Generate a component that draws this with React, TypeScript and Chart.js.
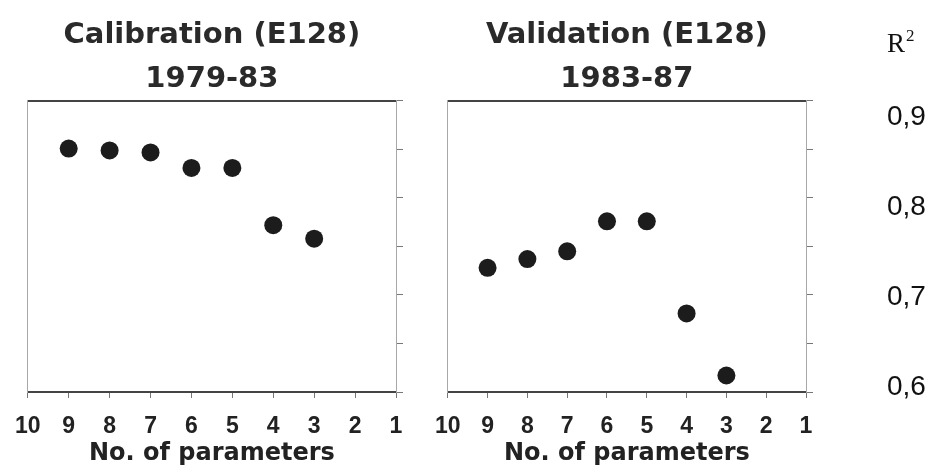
import React, { useEffect, useRef } from "react";
import { Chart, registerables } from "chart.js";

Chart.register(...registerables);

// ---- data ----
const PARAMS = [9, 8, 7, 6, 5, 4, 3];
const CALIBRATION_R2 = [0.851, 0.849, 0.847, 0.831, 0.831, 0.772, 0.758];
const VALIDATION_R2 = [0.728, 0.737, 0.745, 0.776, 0.776, 0.681, 0.617];
const CAL_TITLE = ["Calibration (E128)", "1979-83"];
const VAL_TITLE = ["Validation (E128)", "1983-87"];
const X_TITLE = "No. of parameters";
const R2_LABEL_VALUES = [0.6, 0.7, 0.8, 0.9];

const INK = "#1c1c1c";
const FRAME = "#444";
const SIDE = "#a8a8a8";

function makeConfig(
  title: string[],
  values: number[],
  leftW: number,
  rightW: number,
  withLabels: boolean
): any {
  const scales: any = {
    x: {
      type: "linear",
      reverse: true,
      min: 1,
      max: 10,
      ticks: {
        stepSize: 1,
        color: "#222",
        padding: 15,
        font: { family: "'Liberation Sans', Arial, sans-serif", size: 23, weight: "bold" },
      },
      grid: { drawOnChartArea: false, drawTicks: true, tickLength: 6, color: "#777" },
      border: { color: FRAME, width: 2 },
      title: {
        display: true,
        text: X_TITLE,
        color: "#222",
        padding: { top: 0, bottom: 5 },
        font: { family: "'DejaVu Sans', sans-serif", size: 24, weight: "bold" },
      },
      afterFit: (s: any) => {
        s.height = 81;
      },
    },
    x2: {
      type: "linear",
      position: "top",
      reverse: true,
      min: 1,
      max: 10,
      ticks: { display: false },
      grid: { drawOnChartArea: false, drawTicks: false },
      border: { color: FRAME, width: 2 },
      afterFit: (s: any) => {
        s.height = 0;
      },
    },
    yL: {
      type: "linear",
      position: "left",
      min: 0.6,
      max: 0.9,
      ticks: { display: false },
      grid: { drawOnChartArea: false, drawTicks: false },
      border: { color: SIDE, width: 1, dash: [2, 2] },
      afterFit: (s: any) => {
        s.width = leftW;
      },
    },
    y: {
      type: "linear",
      position: "right",
      weight: 0,
      min: 0.6,
      max: 0.9,
      ticks: { display: false, stepSize: 0.05 },
      grid: { drawOnChartArea: false, drawTicks: true, tickLength: 7, color: "#777" },
      border: { color: SIDE, width: 1, dash: [2, 2] },
      afterFit: (s: any) => {
        s.width = withLabels ? 20 : rightW;
      },
    },
  };
  if (withLabels) {
    scales.y2 = {
      type: "linear",
      position: "right",
      weight: 1,
      min: 0.5944,
      max: 0.9178,
      afterBuildTicks: (s: any) => {
        s.ticks = R2_LABEL_VALUES.map((v) => ({ value: v }));
      },
      ticks: {
        padding: 61,
        color: "#111",
        font: { family: "'Liberation Sans', Arial, sans-serif", size: 28 },
        callback: (v: any) => Number(v).toFixed(1).replace(".", ","),
      },
      grid: { display: false, drawOnChartArea: false, drawTicks: false },
      border: { display: false },
      afterFit: (s: any) => {
        s.width = rightW - 20;
      },
    };
  }
  return {
    type: "scatter",
    data: {
      datasets: [
        {
          data: PARAMS.map((p, i) => ({ x: p, y: values[i] })),
          xAxisID: "x",
          yAxisID: "y",
          pointRadius: 9,
          pointHoverRadius: 9,
          pointBackgroundColor: INK,
          pointBorderWidth: 0,
          showLine: false,
        },
      ],
    },
    options: {
      responsive: false,
      animation: false,
      events: [],
      layout: { padding: 0 },
      plugins: {
        legend: { display: false },
        tooltip: { enabled: false },
        title: {
          display: true,
          text: title,
          fullSize: false,
          align: "center",
          color: "#2a2a2a",
          padding: { top: 13, bottom: 0 },
          font: { family: "'DejaVu Sans', sans-serif", size: 29, weight: "bold", lineHeight: 1.517 },
        },
      },
      scales,
    },
  };
}

function Panel(props: { cfg: () => any; left: number; width: number }) {
  const ref = useRef<HTMLCanvasElement>(null);
  useEffect(() => {
    const c = new Chart(ref.current as HTMLCanvasElement, props.cfg());
    return () => c.destroy();
  }, []);
  return (
    <canvas
      ref={ref}
      width={props.width}
      height={473}
      style={{ position: "absolute", left: props.left, top: 0, display: "block" }}
    />
  );
}

export default function App() {
  return (
    <div
      style={{
        position: "absolute",
        left: 0,
        top: 0,
        width: 932,
        height: 473,
        background: "#fff",
        overflow: "hidden",
      }}
    >
      <Panel left={0} width={420} cfg={() => makeConfig(CAL_TITLE, CALIBRATION_R2, 25, 24, false)} />
      <Panel left={420} width={512} cfg={() => makeConfig(VAL_TITLE, VALIDATION_R2, 21, 126, true)} />
      <div
        style={{
          position: "absolute",
          left: 887,
          top: 30,
          fontFamily: "'Liberation Serif', 'Times New Roman', serif",
          fontSize: 27,
          lineHeight: 1,
          color: "#111",
          whiteSpace: "nowrap",
        }}
      >
        R
        <span style={{ fontSize: 17, position: "relative", top: -11, marginLeft: 1 }}>2</span>
      </div>
    </div>
  );
}
